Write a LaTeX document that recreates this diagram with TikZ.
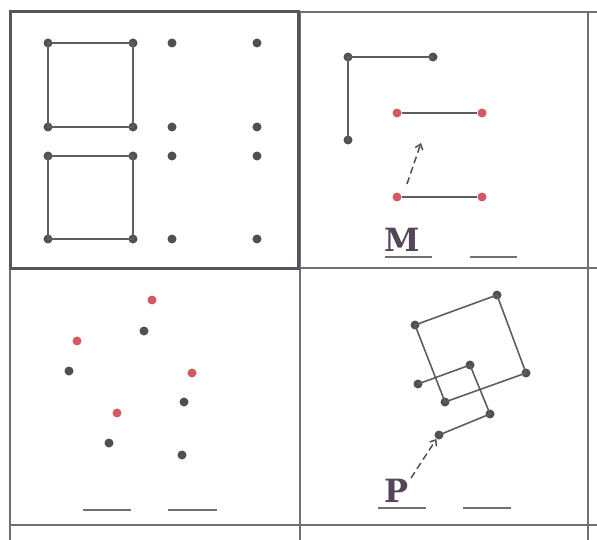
\documentclass[tikz,border=0pt]{standalone}
\usepackage{fontspec}
\newfontfamily\letterfont{DejaVu Serif}
\usetikzlibrary{arrows.meta}
\definecolor{dotgray}{HTML}{505054}
\definecolor{dotred}{HTML}{D25A62}
\definecolor{linegray}{HTML}{5E5E62}
\definecolor{gridgray}{HTML}{707074}
\definecolor{boxgray}{HTML}{5A525E}
\definecolor{letter}{HTML}{554558}
\tikzset{
  dot/.style={circle,fill=dotgray,inner sep=0pt,minimum size=9pt},
  rdot/.style={circle,fill=dotred,inner sep=0pt,minimum size=9pt},
  seg/.style={draw=linegray,line width=1.6pt},
  grid/.style={draw=gridgray,line width=1.6pt},
  uline/.style={draw=gridgray,line width=1.4pt},
  darr/.style={draw=dotgray,line width=1.5pt,dash pattern=on 7pt off 4pt,-{Straight Barb[length=5pt,width=8pt,line width=1.5pt]}},
  lett/.style={text=letter,font=\letterfont\bfseries\fontsize{32}{32}\selectfont,inner sep=0pt}
}
\begin{document}
\begin{tikzpicture}[x=1pt,y=-1pt]
\useasboundingbox (0,0) rectangle (597,540);
% grid
\draw[grid] (10,12) -- (597,12);
\draw[grid] (10,268) -- (597,268);
\draw[grid] (10,525) -- (597,525);
\draw[grid] (10,12) -- (10,540);
\draw[grid] (300,12) -- (300,540);
\draw[grid] (588,12) -- (588,540);
\draw[draw=boxgray,line width=3pt] (10,12) rectangle (298,268);
% top-left cell
\foreach \n/\x/\y in {a1/48/43,a2/133/43,a3/48/127,a4/133/127,b1/48/156,b2/133/156,b3/48/239,b4/133/239,
  c1/172/43,c2/257/43,c3/172/127,c4/257/127,c5/172/156,c6/257/156,c7/172/239,c8/257/239}
  \node[dot] (\n) at (\x,\y) {};
\draw[seg] (a1.center) -- (a2.center) -- (a4.center) -- (a3.center) -- cycle;
\draw[seg] (b1.center) -- (b2.center) -- (b4.center) -- (b3.center) -- cycle;
% top-right cell
\node[dot] (d1) at (348,57) {};
\node[dot] (d2) at (433,57) {};
\node[dot] (d3) at (348,140) {};
\draw[seg] (d3.center) -- (d1.center) -- (d2.center);
\node[rdot] (e1) at (397,113) {};
\node[rdot] (e2) at (482,113) {};
\node[rdot] (e3) at (397,197) {};
\node[rdot] (e4) at (482,197) {};
\draw[seg] (e1) -- (e2);
\draw[seg] (e3) -- (e4);
\coordinate (m1) at (407,184);
\coordinate (m2) at (421,143);
\draw[darr] (m1) -- (m2);
\node[lett] (M) at (402,240) {M};
\coordinate (u1a) at (385,257); \coordinate (u1b) at (432,257);
\coordinate (u2a) at (470,257); \coordinate (u2b) at (517,257);
\draw[uline] (u1a) -- (u1b);
\draw[uline] (u2a) -- (u2b);
% bottom-left cell
\foreach \n/\x/\y in {r1/152/300,r2/77/341,r3/192/373,r4/117/413}
  \node[rdot] (\n) at (\x,\y) {};
\foreach \n/\x/\y in {k1/144/331,k2/69/371,k3/184/402,k4/109/443,k5/182/455}
  \node[dot] (\n) at (\x,\y) {};
\coordinate (u3a) at (83,510); \coordinate (u3b) at (131,510);
\coordinate (u4a) at (168,510); \coordinate (u4b) at (217,510);
\draw[uline] (u3a) -- (u3b);
\draw[uline] (u4a) -- (u4b);
% bottom-right cell
\node[dot] (s1) at (415,325) {};
\node[dot] (s2) at (497,295) {};
\node[dot] (s3) at (526,373) {};
\node[dot] (s4) at (445,402) {};
\draw[seg] (s1.center) -- (s2.center) -- (s3.center) -- (s4.center) -- cycle;
\node[dot] (t1) at (418,384) {};
\node[dot] (t2) at (470,365) {};
\node[dot] (t3) at (490,414) {};
\node[dot] (t4) at (439,435) {};
\draw[seg] (t1.center) -- (t2.center) -- (t3.center) -- (t4.center);
\node[lett] (P) at (397,491) {P};
\coordinate (p1) at (411,478);
\draw[darr] (p1) -- (t4);
\coordinate (u5a) at (378,508); \coordinate (u5b) at (426,508);
\coordinate (u6a) at (463,508); \coordinate (u6b) at (511,508);
\draw[uline] (u5a) -- (u5b);
\draw[uline] (u6a) -- (u6b);
\end{tikzpicture}
\end{document}
